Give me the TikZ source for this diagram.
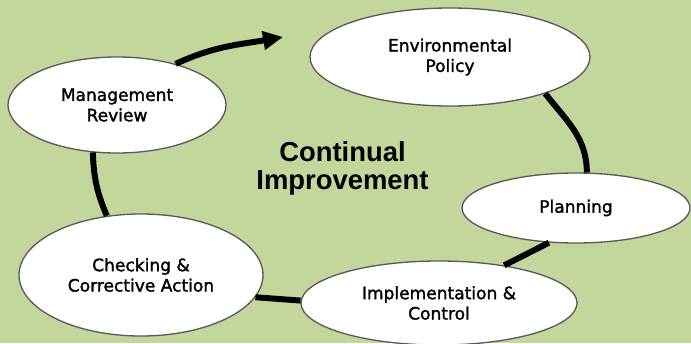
\documentclass[tikz,border=0pt]{standalone}
\usepackage{fontspec}
\setmainfont{DejaVu Sans}
\newfontfamily\stagefont[FakeBold=1.6]{DejaVu Sans}
\newfontfamily\titlefont{Liberation Sans}
\usepackage{tikz}
\usetikzlibrary{shapes.geometric,arrows.meta}
\definecolor{bggreen}{RGB}{195,214,155}

\begin{document}
\begin{tikzpicture}[
	stage/.style={ellipse, draw=black!65, line width=0.75pt, fill=white, inner sep=0pt,
		align=center, font=\stagefont\fontsize{9.7}{11.6}\selectfont},
	link/.style={line width=3.4pt, color=black}
	]
			%%%%% START %%%%%
			
			\useasboundingbox (0, 0) rectangle (13.82, 6.86);
			\clip (0, 0) rectangle (13.82, 6.86);
			\fill[bggreen] (0, 0) rectangle (13.82, 6.86);
			
			\node[stage, minimum width=4.36cm, minimum height=1.92cm] (mr) at (2.34, 4.76) {Management\\Review};
			\node[stage, minimum width=5.60cm, minimum height=1.96cm] (ep) at (9.00, 5.72) {Environmental\\Policy};
			\node[stage, minimum width=4.56cm, minimum height=1.40cm] (pl) at (11.52, 2.70) {Planning};
			\node[stage, minimum width=5.52cm, minimum height=1.68cm] (ic) at (8.78, 0.80) {Implementation \&\\Control};
			\node[stage, minimum width=4.88cm, minimum height=2.44cm] (cca) at (2.82, 1.36) {Checking \&\\Corrective Action};
			
			\node[align=center, font=\titlefont\bfseries\fontsize{15.6}{16}\selectfont] (ci) at (6.85, 3.50) {Continual\\Improvement};
			
			\coordinate (tip) at (5.66, 6.12);
			\draw[link, -{Triangle[length=0.4cm, width=0.36cm]}] (mr.35) to[out=25, in=190] (tip);
			\draw[link] (ep.-21) to[out=-52, in=90] (pl.73);
			\draw[link] (pl.-128) -- (ic.30);
			\draw[link] (cca.-11) -- (ic.179);
			\draw[link] (cca.120) to[out=113, in=-88] (mr.-117);
			
			%%%%% END %%%%%
		\end{tikzpicture}
\end{document}
